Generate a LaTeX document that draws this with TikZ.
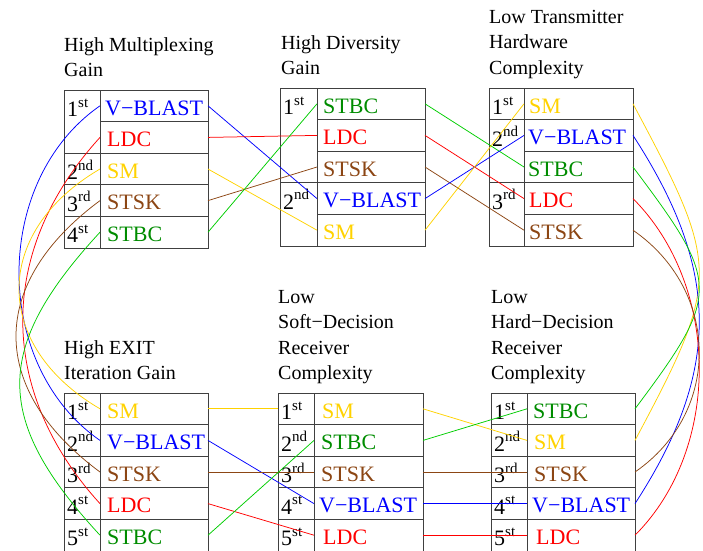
\documentclass[tikz,border=0pt]{standalone}
\usepackage{fontspec}
\setmainfont{Liberation Serif}
\definecolor{cblue}{RGB}{0,0,255}
\definecolor{cred}{RGB}{255,0,0}
\definecolor{cyel}{RGB}{255,210,0}
\definecolor{cbrown}{RGB}{140,70,20}
\definecolor{cgreen}{RGB}{0,140,0}
\definecolor{cgline}{RGB}{0,205,0}
\def\rh{31.6}
\tikzset{
 cell/.style={draw=black!75, line width=1pt, inner sep=0pt, outer sep=0pt},
 itemtxt/.style={anchor=base west, inner sep=0pt, font=\fontsize{22}{26}\selectfont},
 ranktxt/.style={anchor=base west, inner sep=0pt, font=\fontsize{22}{26}\selectfont},
 ttxt/.style={anchor=base west, inner sep=0pt, font=\fontsize{20}{25}\selectfont},
 conn/.style={line width=0.75pt},
}
\newcommand\icell[7]{%
 \node[cell, minimum width={#3-#2}, minimum height=\rh] (#1) at ({(#2+#3)/2},{#4+(#5-0.5)*\rh}) {};
 \node[itemtxt] (#1t) at ({#2+#6},{#4+(#5-1)*\rh+25}) {#7};}
\newcommand\rcell[7]{%
 \node[cell, minimum width={#3-#2}, minimum height={(#6-#5+1)*\rh}] (#1) at ({(#2+#3)/2},{#4+((#5+#6)/2-0.5)*\rh}) {};
 \node[ranktxt] (#1t) at ({#2+3},{#4+(#5-1)*\rh+26.5}) {#7};}
\newcommand\ord[2]{#1\raisebox{9.5pt}{\fontsize{15}{15}\selectfont #2}}
\newcommand\ttl[4]{\foreach \t [count=\i] in {#4}{\node[ttxt] (#1-\i) at (#2,{#3+(\i-1)*25.5}) {\t};}}
\begin{document}
\begin{tikzpicture}[x=1pt,y=-1pt]
\clip (0,0) rectangle (703,550);
% titles
\ttl{ta}{64}{51}{High Multiplexing,Gain}
\ttl{tb}{281}{49}{High Diversity,Gain}
\ttl{tc}{489}{23}{Low Transmitter,Hardware,Complexity}
\ttl{td}{64}{354}{High EXIT,Iteration Gain}
\ttl{te}{278}{303}{Low,Soft−Decision,Receiver,Complexity}
\ttl{tf}{491}{303}{Low,Hard−Decision,Receiver,Complexity}
% table 1
\rcell{ar1}{64}{100}{90}{1}{2}{\ord{1}{st}}
\rcell{ar2}{64}{100}{90}{3}{3}{\ord{2}{nd}}
\rcell{ar3}{64}{100}{90}{4}{4}{\ord{3}{rd}}
\rcell{ar4}{64}{100}{90}{5}{5}{\ord{4}{st}}
\icell{a1}{100}{208}{90}{1}{5}{\color{cblue}V−BLAST}
\icell{a2}{100}{208}{90}{2}{7}{\color{cred}LDC}
\icell{a3}{100}{208}{90}{3}{7}{\color{cyel}SM}
\icell{a4}{100}{208}{90}{4}{7}{\color{cbrown}STSK}
\icell{a5}{100}{208}{90}{5}{7}{\color{cgreen}STBC}
% table 2
\rcell{br1}{280}{317}{88}{1}{3}{\ord{1}{st}}
\rcell{br2}{280}{317}{88}{4}{5}{\ord{2}{nd}}
\icell{b1}{317}{425}{88}{1}{6}{\color{cgreen}STBC}
\icell{b2}{317}{425}{88}{2}{6}{\color{cred}LDC}
\icell{b3}{317}{425}{88}{3}{6}{\color{cbrown}STSK}
\icell{b4}{317}{425}{88}{4}{6}{\color{cblue}V−BLAST}
\icell{b5}{317}{425}{88}{5}{6}{\color{cyel}SM}
% table 3
\rcell{cr1}{489}{524}{88}{1}{1}{\ord{1}{st}}
\rcell{cr2}{489}{524}{88}{2}{3}{\ord{2}{nd}}
\rcell{cr3}{489}{524}{88}{4}{5}{\ord{3}{rd}}
\icell{c1}{524}{633}{88}{1}{5}{\color{cyel}SM}
\icell{c2}{524}{633}{88}{2}{4}{\color{cblue}V−BLAST}
\icell{c3}{524}{633}{88}{3}{4}{\color{cgreen}STBC}
\icell{c4}{524}{633}{88}{4}{5}{\color{cred}LDC}
\icell{c5}{524}{633}{88}{5}{5}{\color{cbrown}STSK}
% table 4
\rcell{dr1}{64}{100}{393}{1}{1}{\ord{1}{st}}
\rcell{dr2}{64}{100}{393}{2}{2}{\ord{2}{nd}}
\rcell{dr3}{64}{100}{393}{3}{3}{\ord{3}{rd}}
\rcell{dr4}{64}{100}{393}{4}{4}{\ord{4}{st}}
\rcell{dr5}{64}{100}{393}{5}{5}{\ord{5}{st}}
\icell{d1}{100}{208}{393}{1}{7}{\color{cyel}SM}
\icell{d2}{100}{208}{393}{2}{7}{\color{cblue}V−BLAST}
\icell{d3}{100}{208}{393}{3}{7}{\color{cbrown}STSK}
\icell{d4}{100}{208}{393}{4}{7}{\color{cred}LDC}
\icell{d5}{100}{208}{393}{5}{7}{\color{cgreen}STBC}
% table 5
\rcell{er1}{278}{314}{393}{1}{1}{\ord{1}{st}}
\rcell{er2}{278}{314}{393}{2}{2}{\ord{2}{nd}}
\rcell{er3}{278}{314}{393}{3}{3}{\ord{3}{rd}}
\rcell{er4}{278}{314}{393}{4}{4}{\ord{4}{st}}
\rcell{er5}{278}{314}{393}{5}{5}{\ord{5}{st}}
\icell{e1}{314}{423}{393}{1}{8}{\color{cyel}SM}
\icell{e2}{314}{423}{393}{2}{7}{\color{cgreen}STBC}
\icell{e3}{314}{423}{393}{3}{7}{\color{cbrown}STSK}
\icell{e4}{314}{423}{393}{4}{5}{\color{cblue}V−BLAST}
\icell{e5}{314}{423}{393}{5}{9}{\color{cred}LDC}
% table 6
\rcell{fr1}{491}{527}{393}{1}{1}{\ord{1}{st}}
\rcell{fr2}{491}{527}{393}{2}{2}{\ord{2}{nd}}
\rcell{fr3}{491}{527}{393}{3}{3}{\ord{3}{rd}}
\rcell{fr4}{491}{527}{393}{4}{4}{\ord{4}{st}}
\rcell{fr5}{491}{527}{393}{5}{5}{\ord{5}{st}}
\icell{f1}{527}{635}{393}{1}{6}{\color{cgreen}STBC}
\icell{f2}{527}{635}{393}{2}{7}{\color{cyel}SM}
\icell{f3}{527}{635}{393}{3}{7}{\color{cbrown}STSK}
\icell{f4}{527}{635}{393}{4}{5}{\color{cblue}V−BLAST}
\icell{f5}{527}{635}{393}{5}{9}{\color{cred}LDC}
% connectors T1 -> T2
\draw[conn,cblue] (a1.east) -- (b4.west);
\draw[conn,cred] (a2.east) -- (b2.west);
\draw[conn,cyel] (a3.east) -- (b5.west);
\draw[conn,cbrown] (a4.east) -- (b3.west);
\draw[conn,cgline] (a5.east) -- (b1.west);
% T2 -> T3
\draw[conn,cgline] (b1.east) -- (c3.west);
\draw[conn,cred] (b2.east) -- (c4.west);
\draw[conn,cbrown] (b3.east) -- (c5.west);
\draw[conn,cblue] (b4.east) -- (c2.west);
\draw[conn,cyel] (b5.east) -- (c1.west);
% T3 -> T6 (right arcs)
\draw[conn,cyel] (c1.east) .. controls +(87,163) and +(87,-163) .. (f2.east);
\draw[conn,cblue] (c2.east) .. controls +(87,134) and +(87,-134) .. (f4.east);
\draw[conn,cgline] (c3.east) .. controls +(87,116) and +(87,-116) .. (f1.east);
\draw[conn,cred] (c4.east) .. controls +(87,87) and +(87,-87) .. (f5.east);
\draw[conn,cbrown] (c5.east) .. controls +(87,60) and +(87,-60) .. (f3.east);
% T1 -> T4 (left arcs)
\draw[conn,cblue] (a1.west) .. controls +(-108,75) and +(-108,-75) .. (d2.west);
\draw[conn,cred] (a2.west) .. controls +(-103,113) and +(-103,-113) .. (d4.west);
\draw[conn,cyel] (a3.west) .. controls +(-108,63) and +(-108,-63) .. (d1.west);
\draw[conn,cbrown] (a4.west) .. controls +(-112,83) and +(-112,-83) .. (d3.west);
\draw[conn,cgline] (a5.west) .. controls +(-107,116) and +(-107,-116) .. (d5.west);
% T4 -> T5
\draw[conn,cyel] (d1.east) -- (er1.west);
\draw[conn,cblue] (d2.east) -- (e4.west);
\draw[conn,cbrown] (d3.east) -- (e3.west);
\draw[conn,cred] (d4.east) -- (e5.west);
\draw[conn,cgline] (d5.east) -- (e2.west);
% T5 -> T6
\draw[conn,cyel] (e1.east) -- (f2.west);
\draw[conn,cgline] (e2.east) -- (f1.west);
\draw[conn,cbrown] (e3.east) -- (f3.west);
\draw[conn,cblue] (e4.east) -- (f4.west);
\draw[conn,cred] (e5.east) -- (f5.west);
\end{tikzpicture}
\end{document}
